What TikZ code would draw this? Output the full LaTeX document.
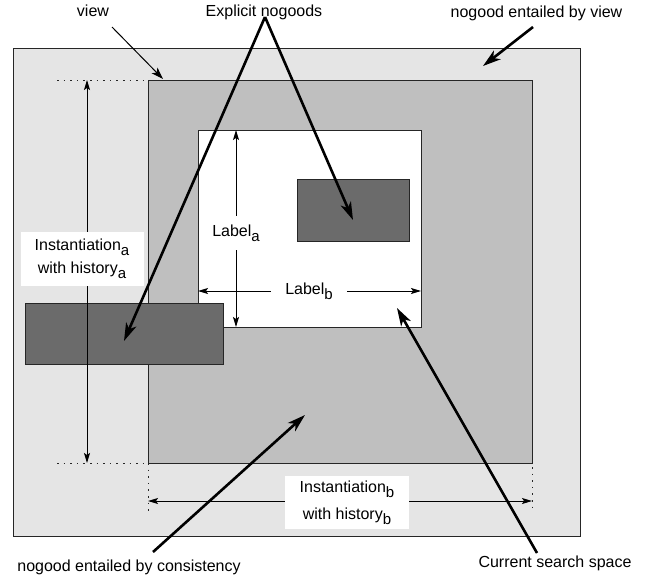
\documentclass[tikz,border=0pt]{standalone}
\usepackage{fontspec}
\setmainfont{Liberation Sans}
\usetikzlibrary{arrows.meta}
\definecolor{lightgr}{HTML}{E5E5E5}
\definecolor{midgr}{HTML}{BFBFBF}
\definecolor{darkgr}{HTML}{6B6B6B}
\newcommand\lowsub[1]{\raisebox{-5pt}{\fontsize{15}{15}\selectfont #1}}
\begin{document}
\begin{tikzpicture}[x=1pt,y=-1pt,
  box/.style={draw=black!85, line width=1pt, inner sep=0pt, outer sep=0pt, anchor=north west},
  lbl/.style={font=\fontsize{16}{19}\selectfont, inner sep=0pt, anchor=base},
  bigarrow/.style={line width=2.6pt, -{Stealth[length=18pt,width=11pt,inset=5pt]}},
  thinarrow/.style={line width=1pt, -{Stealth[length=12pt,width=8pt,inset=3pt]}},
  dimarrow/.style={line width=1pt, {Stealth[length=10pt,width=6pt,inset=2pt]}-{Stealth[length=10pt,width=6pt,inset=2pt]}},
  dotline/.style={line width=0.9pt, black!85, dash pattern=on 1.6pt off 5pt},
  whitebox/.style={fill=white, align=center, inner sep=0pt, font=\fontsize{16}{23}\selectfont},
  gaplabel/.style={fill=white, font=\fontsize{16}{19}\selectfont}
]
\useasboundingbox (0,0) rectangle (647,578);
% boxes
\node[box, fill=lightgr, minimum width=567, minimum height=487] (outer) at (13,49) {};
\node[box, fill=midgr, minimum width=384, minimum height=383] (viewbox) at (148,80) {};
\node[box, fill=white, minimum width=223, minimum height=197] (inner) at (198,130) {};
\node[box, fill=darkgr, minimum width=112, minimum height=62] (darkR) at (297,179) {};
\node[box, fill=darkgr, minimum width=198, minimum height=61] (darkL) at (25,303) {};
% coordinates
\coordinate (dotTL) at (57,80);
\coordinate (dotBL) at (57,463);
\coordinate (dimTop) at (87,80);
\coordinate (dimBot) at (87,463);
\coordinate (dotLB) at (148,515);
\coordinate (dotRT) at (532,467);
\coordinate (dotRB) at (532,513);
\coordinate (dimL) at (148,501);
\coordinate (dimR) at (532,501);
\coordinate (laTop) at (236,130);
\coordinate (laBot) at (236,327);
\coordinate (lbL) at (198,291);
\coordinate (lbR) at (421,291);
% dotted extension lines
\draw[dotline] (dotTL) -- (viewbox.north west);
\draw[dotline] (dotBL) -- (viewbox.south west);
\draw[dotline] (viewbox.south west) -- (dotLB);
\draw[dotline] (dotRT) -- (dotRB);
% dimension arrows
\draw[dimarrow] (dimTop) -- (dimBot);
\draw[dimarrow] (dimL) -- (dimR);
\draw[dimarrow] (laTop) -- (laBot);
\draw[dimarrow] (lbL) -- (lbR);
% dimension labels
\node[whitebox, minimum width=123, minimum height=54] (tinsta) at (82,259) {Instantiation\lowsub{a}\\with history\lowsub{a}};
\node[whitebox, minimum width=124, minimum height=53] (tinstb) at (347,502.5) {Instantiation\lowsub{b}\\[4pt]with history\lowsub{b}};
\node[gaplabel, inner xsep=3pt, inner ysep=9pt] (tlabela) at (236,233) {Label\lowsub{a}};
\node[gaplabel, inner xsep=14pt, inner ysep=3pt] (tlabelb) at (309,291) {Label\lowsub{b}};
% text labels
\node[lbl] (tview) at (93,17) {view};
\node[lbl] (texpl) at (264,17) {Explicit nogoods};
\node[lbl] (tentview) at (536.5,18) {nogood entailed by view};
\node[lbl] (tcons) at (129,571) {nogood entailed by consistency};
\node[lbl] (tcur) at (555,567) {Current search space};
% arrow ends
\coordinate (viewS) at (112,27);
\coordinate (viewE) at (163,79);
\coordinate (entS) at (533,27);
\coordinate (entE) at (483,66);
\coordinate (apex) at (265,17);
\coordinate (explR) at (353,220);
\coordinate (explL) at (124,341);
\coordinate (consS) at (153,552);
\coordinate (consE) at (305,415);
\coordinate (curS) at (537,553);
\coordinate (curE) at (397,308);
% arrows
\draw[thinarrow] (viewS) -- (viewE);
\draw[bigarrow] (entS) -- (entE);
\draw[bigarrow] (apex) -- (explR);
\draw[bigarrow] (apex) -- (explL);
\draw[bigarrow] (consS) -- (consE);
\draw[bigarrow] (curS) -- (curE);
\end{tikzpicture}
\end{document}
